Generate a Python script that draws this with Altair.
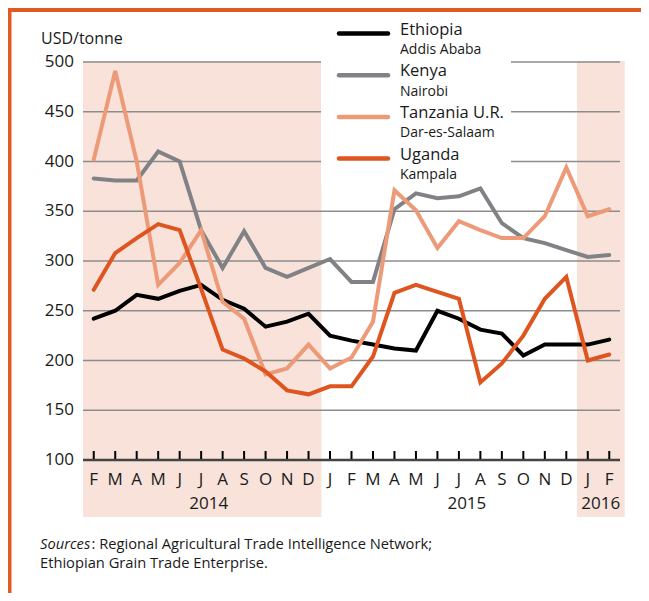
import altair as alt
import pandas as pd

# ---------------- data ----------------
months = ["F", "M", "A", "M", "J", "J", "A", "S", "O", "N", "D",
          "J", "F", "M", "A", "M", "J", "J", "A", "S", "O", "N", "D",
          "J", "F"]
years = ["2014", "2015", "2016"]
year_pos = [5.35, 17.37, 23.6]

countries = ["Ethiopia", "Kenya", "Tanzania U.R.", "Uganda"]
cities = ["Addis Ababa", "Nairobi", "Dar-es-Salaam", "Kampala"]
colors = ["#000000", "#808285", "#EC9A78", "#DE5520"]

ethiopia = [242, 250, 266, 262, 270, 276, 261, 252, 234, 239, 247, 225, 220,
            216, 212, 210, 250, 242, 231, 227, 205, 216, 216, 216, 221]
kenya = [383, 381, 381, 410, 400, 331, 293, 330, 293, 284, 293, 302, 279,
         279, 352, 368, 363, 365, 373, 338, 323, 318, 311, 304, 306]
tanzania = [402, 491, 400, 276, 298, 331, 259, 242, 186, 192, 216, 192, 203,
            239, 371, 351, 313, 340, 331, 323, 323, 345, 394, 345, 352]
uganda = [271, 308, 323, 337, 331, 272, 211, 202, 189, 170, 166, 174, 174,
          204, 268, 276, 269, 262, 178, 197, 225, 262, 284, 200, 206]
series = [ethiopia, kenya, tanzania, uganda]

y_values = [100, 150, 200, 250, 300, 350, 400, 450, 500]
shade_start = [-0.5, 22.5]
shade_end = [10.6, 24.72]

unit_label = "USD/tonne"
source_italic = "Sources"
source_line1 = ": Regional Agricultural Trade Intelligence Network;"
source_line2 = "Ethiopian Grain Trade Enterprise."

# ---------------- layout ----------------
W, H = 537, 398
PAD_L, PAD_T = 75, 54
FONT = "Open Sans"
TXT = "#1a1a1a"

xs = alt.Scale(domain=[-0.5, 24.5], nice=False, zero=False)
ys = alt.Scale(domain=[100, 500], nice=False, zero=False)

idx = list(range(len(months)))
df_months = pd.DataFrame({"i": idx, "m": months})
df_years = pd.DataFrame({"p": year_pos, "y": years})
df_shade = pd.DataFrame({"s": shade_start, "e": shade_end})
df_grid = pd.DataFrame({"v": [v for v in y_values if v != 100]})
df_base = pd.DataFrame({"v": [100]})
df_ylab = pd.DataFrame({"v": y_values, "t": [str(v) for v in y_values]})

layers = []

# shaded year bands
layers.append(
    alt.Chart(df_shade).mark_rect(color="#F8E2DA").encode(
        x=alt.X("s:Q", scale=xs, axis=None), x2="e:Q",
        y=alt.value(-1), y2=alt.value(455))
)
# gridlines
layers.append(
    alt.Chart(df_grid).mark_rule(color="#8c8c8c", strokeWidth=1.5).encode(
        y=alt.Y("v:Q", scale=ys, axis=None),
        x=alt.value(0), x2=alt.value(W))
)
# white legend box
layers.append(
    alt.Chart(pd.DataFrame({"a": [0]})).mark_rect(color="white").encode(
        x=alt.value(238), x2=alt.value(428), y=alt.value(-62), y2=alt.value(123))
)
# base axis line
layers.append(
    alt.Chart(df_base).mark_rule(color="#444444", strokeWidth=2.5).encode(
        y=alt.Y("v:Q", scale=ys, axis=None),
        x=alt.value(0), x2=alt.value(W))
)
# month ticks
layers.append(
    alt.Chart(df_months).mark_rule(color="#000000", strokeWidth=2).encode(
        x=alt.X("i:Q", scale=xs, axis=None),
        y=alt.value(H - 9), y2=alt.value(H - 1))
)
# y labels
layers.append(
    alt.Chart(df_ylab).mark_text(align="right", baseline="middle", font=FONT,
                                 fontSize=17, color=TXT).encode(
        y=alt.Y("v:Q", scale=ys, axis=None), x=alt.value(-9), text="t:N")
)
# month labels
layers.append(
    alt.Chart(df_months).mark_text(align="center", baseline="middle", font=FONT,
                                   fontSize=17, color=TXT).encode(
        x=alt.X("i:Q", scale=xs, axis=None), y=alt.value(418), text="m:N")
)
# year labels
layers.append(
    alt.Chart(df_years).mark_text(align="center", baseline="middle", font=FONT,
                                  fontSize=17, color=TXT).encode(
        x=alt.X("p:Q", scale=xs, axis=None), y=alt.value(442), text="y:N")
)
# data lines
for name, vals, col in zip(countries, series, colors):
    df = pd.DataFrame({"i": idx, "v": vals})
    layers.append(
        alt.Chart(df).mark_line(color=col, strokeWidth=4, strokeCap="round",
                                strokeJoin="miter").encode(
            x=alt.X("i:Q", scale=xs, axis=None),
            y=alt.Y("v:Q", scale=ys, axis=None))
    )

# legend
for k, (name, city, col) in enumerate(zip(countries, cities, colors)):
    off = k * 41.7
    layers.append(
        alt.Chart(pd.DataFrame({"a": [0]})).mark_rule(
            color=col, strokeWidth=4.5, strokeCap="round").encode(
            x=alt.value(256), x2=alt.value(305), y=alt.value(-28.5 + off))
    )
    layers.append(
        alt.Chart(pd.DataFrame({"t": [name]})).mark_text(
            align="left", baseline="middle", font=FONT, fontSize=16.5, color=TXT).encode(
            x=alt.value(317), y=alt.value(-32.5 + off), text="t:N")
    )
    layers.append(
        alt.Chart(pd.DataFrame({"t": [city]})).mark_text(
            align="left", baseline="middle", font=FONT, fontSize=14, color=TXT).encode(
            x=alt.value(317), y=alt.value(-12 + off), text="t:N")
    )

# unit label
layers.append(
    alt.Chart(pd.DataFrame({"t": [unit_label]})).mark_text(
        align="left", baseline="middle", font=FONT, fontSize=16, color=TXT).encode(
        x=alt.value(-42), y=alt.value(-23.5), text="t:N")
)
# sources
layers.append(
    alt.Chart(pd.DataFrame({"t": [source_italic]})).mark_text(
        align="left", baseline="middle", font=FONT, fontSize=14.7, fontStyle="italic",
        color=TXT).encode(x=alt.value(-43), y=alt.value(483), text="t:N")
)
layers.append(
    alt.Chart(pd.DataFrame({"t": [source_line1]})).mark_text(
        align="left", baseline="middle", font=FONT, fontSize=14.7, color=TXT).encode(
        x=alt.value(8.5), y=alt.value(483), text="t:N")
)
layers.append(
    alt.Chart(pd.DataFrame({"t": [source_line2]})).mark_text(
        align="left", baseline="middle", font=FONT, fontSize=14.7, color=TXT).encode(
        x=alt.value(-43), y=alt.value(502), text="t:N")
)
# frame decorations
layers.append(
    alt.Chart(pd.DataFrame({"a": [0]})).mark_rect(color="#E05A24").encode(
        x=alt.value(-PAD_L), x2=alt.value(W + 30), y=alt.value(-PAD_T), y2=alt.value(-PAD_T + 4))
)
layers.append(
    alt.Chart(pd.DataFrame({"a": [0]})).mark_rect(color="#E05A24").encode(
        x=alt.value(-PAD_L), x2=alt.value(-PAD_L + 3.5), y=alt.value(-PAD_T), y2=alt.value(H + 200))
)

chart = alt.layer(*layers).properties(
    width=W, height=H,
    autosize=alt.AutoSizeParams(type="none"),
    padding={"left": PAD_L, "top": PAD_T, "right": 21, "bottom": 133},
    background="white",
).configure_view(stroke=None)

chart.save("out.html", embed_options={"renderer": "svg", "actions": False})
